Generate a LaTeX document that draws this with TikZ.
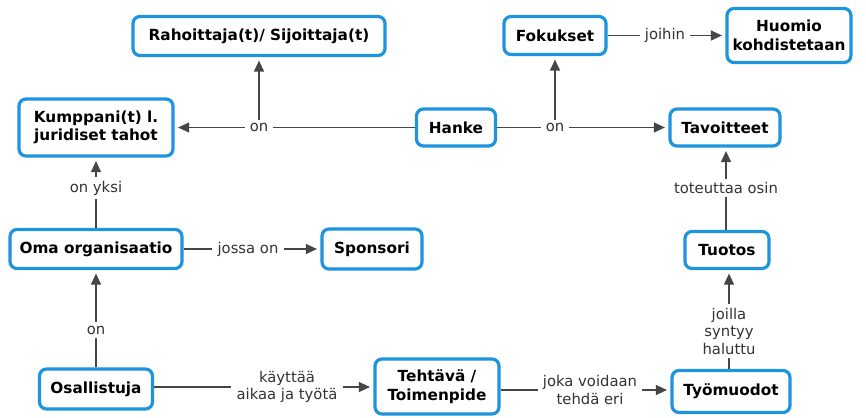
\documentclass[tikz,border=0pt]{standalone}
\usepackage{fontspec}
\setmainfont{DejaVu Sans}
\usetikzlibrary{arrows.meta}
\definecolor{cmblue}{RGB}{30,148,222}
\definecolor{cmline}{RGB}{70,70,70}
\begin{document}
\begin{tikzpicture}[x=1pt,y=-1pt,
 concept/.style={draw=cmblue, line width=3.2pt, rounded corners=7pt, fill=white, align=center,
   font=\fontsize{15.3}{18.5}\selectfont\bfseries, inner sep=2pt},
 phrase/.style={fill=white, align=center, font=\fontsize{14.8}{17.5}\selectfont, text=black!80, inner xsep=5pt, inner ysep=3.5pt},
 link/.style={draw=cmline, line width=1.2pt},
 arr/.style={link, -{Triangle[length=11pt,width=10pt]}, shorten >=3.5pt}]
\fill[white] (0,0) rectangle (866,417);
\useasboundingbox (0,0) rectangle (866,417);
% concepts
\node[concept, minimum width=252pt, minimum height=39pt] (rah) at (259,36) {Rahoittaja(t)/ Sijoittaja(t)};
\node[concept, minimum width=154pt, minimum height=57pt] (kump) at (96,127.5) {Kumppani(t) l.\\juridiset tahot};
\node[concept, minimum width=79pt, minimum height=37pt] (hanke) at (456,127.5) {Hanke};
\node[concept, minimum width=102pt, minimum height=38pt] (fok) at (555,35.5) {Fokukset};
\node[concept, minimum width=124pt, minimum height=54pt] (huo) at (789,35.5) {Huomio\\kohdistetaan};
\node[concept, minimum width=110pt, minimum height=37pt] (tav) at (725,127.5) {Tavoitteet};
\node[concept, minimum width=172pt, minimum height=39pt] (oma) at (96,249) {Oma organisaatio};
\node[concept, minimum width=100pt, minimum height=40pt] (spo) at (372,249) {Sponsori};
\node[concept, minimum width=84pt, minimum height=37pt] (tuo) at (727,250) {Tuotos};
\node[concept, minimum width=113pt, minimum height=40pt] (osa) at (96,389) {Osallistuja};
\node[concept, minimum width=124pt, minimum height=55pt] (teh) at (437,386.5) {Tehtävä /\\Toimenpide};
\node[concept, minimum width=118pt, minimum height=42pt] (tyo) at (731,391.5) {Työmuodot};
% linking phrases
\node[phrase] (p1) at (259,127.5) {on};
\node[phrase] (p2) at (555,127.5) {on};
\node[phrase] (p3) at (665,35.5) {joihin};
\node[phrase] (p4) at (96,188) {on yksi};
\node[phrase] (p5) at (248,249) {jossa on};
\node[phrase] (p6) at (726,188) {toteuttaa osin};
\node[phrase] (p7) at (96,330) {on};
\node[phrase] (p8) at (287,387) {käyttää\\aikaa ja työtä};
\node[phrase] (p9) at (590,390) {joka voidaan\\tehdä eri};
\node[phrase] (p10) at (729,331) {joilla\\syntyy\\haluttu};
% connectors
\draw[link] (hanke) -- (p1);
\draw[arr] (p1) -- (kump);
\draw[arr] (p1) -- (p1 |- rah.south);
\draw[link] (hanke) -- (p2);
\draw[arr] (p2) -- (p2 -| tav.west);
\draw[arr] (p2) -- (p2 |- fok.south);
\draw[link] (fok) -- (p3);
\draw[arr] (p3) -- (p3 -| huo.west);
\draw[link] (oma) -- (p4);
\draw[arr] (p4) -- (kump);
\draw[link] (oma) -- (p5);
\draw[arr] (p5) -- (p5 -| spo.west);
\draw[link] (osa) -- (p7);
\draw[arr] (p7) -- (oma);
\draw[link] (osa.east |- p8) -- (p8);
\draw[arr] (p8) -- (p8 -| teh.west);
\draw[link] (teh.east |- p9) -- (p9);
\draw[arr] (p9) -- (p9 -| tyo.west);
\draw[link] (tyo.north -| p10.south) -- (p10.south);
\draw[arr] (p10.north) -- (p10.north |- tuo.south);
\draw[link] (tuo.north -| p6.south) -- (p6.south);
\draw[arr] (p6.north) -- (p6.north |- tav.south);
\end{tikzpicture}
\end{document}
